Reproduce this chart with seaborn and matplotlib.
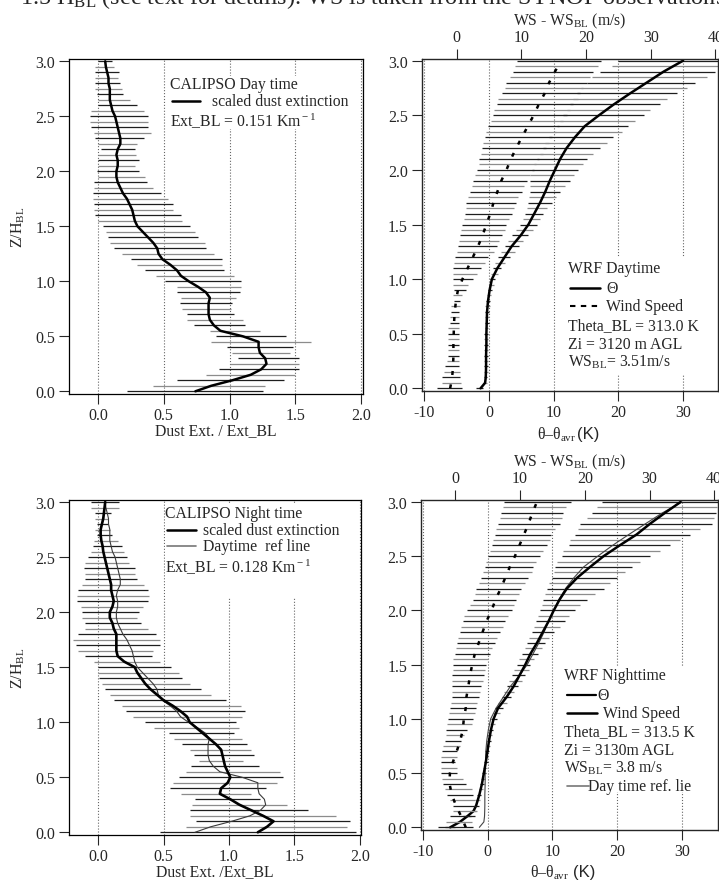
import numpy as np
import matplotlib
matplotlib.use("Agg")
import matplotlib.pyplot as plt
from matplotlib.patches import Rectangle
import seaborn as sns

W, H = 719, 887

# levels of the profiles, Z/H_BL
z_bins = np.linspace(0, 3, 61)
z_coarse = np.linspace(0, 3, 31)
z_theta = [0.0, 0.05, 0.1, 0.15, 0.2, 0.3, 0.4, 0.5, 0.6, 0.7, 0.8, 0.9, 1.0, 1.1, 1.2, 1.3,
           1.4, 1.5, 1.6, 1.7, 1.8, 1.9, 2.0, 2.1, 2.2, 2.3, 2.4, 2.5, 2.6, 2.7, 2.8, 2.9, 3.0]

# CALIPSO daytime, scaled dust extinction (bottom -> top)
day_ext = [0.74, 0.86, 1.02, 1.16, 1.24, 1.28, 1.27, 1.23, 1.22, 1.22,
           1.10, 0.93, 0.88, 0.85, 0.84, 0.84, 0.84, 0.85, 0.82, 0.76,
           0.69, 0.63, 0.60, 0.55, 0.49, 0.46, 0.45, 0.42, 0.38, 0.34,
           0.30, 0.28, 0.27, 0.26, 0.24, 0.22, 0.19, 0.17, 0.15, 0.14,
           0.14, 0.15, 0.15, 0.14, 0.15, 0.17, 0.17, 0.16, 0.15, 0.14,
           0.13, 0.11, 0.10, 0.09, 0.09, 0.09, 0.08, 0.08, 0.07, 0.06, 0.055]
day_ext_lo = [0.22, 0.42, 0.60, 0.82, 0.92, 1.00, 1.06, 1.02, 0.98, 0.86,
              0.90, 0.85, 0.73, 0.68, 0.68, 0.64, 0.62, 0.63, 0.60, 0.60,
              0.51, 0.44, 0.36, 0.30, 0.25, 0.18, 0.12, 0.09, 0.08, 0.06,
              0.04, 0.00, -0.02, -0.03, -0.03, -0.04, -0.04, -0.03, -0.03, 0.00,
              -0.01, 0.00, 0.00, 0.00, 0.02, 0.00, -0.02, -0.03, -0.05, -0.06,
              -0.06, -0.05, 0.00, 0.00, -0.01, -0.02, -0.02, -0.02, -0.02, -0.02, 0.00]
day_ext_hi = [1.25, 1.27, 1.41, 1.50, 1.53, 1.53, 1.53, 1.46, 1.48, 1.62,
              1.43, 1.23, 1.12, 1.10, 1.03, 1.01, 1.02, 1.05, 1.08, 1.09,
              1.09, 1.03, 0.96, 0.94, 0.94, 0.88, 0.82, 0.81, 0.76, 0.74,
              0.70, 0.64, 0.63, 0.57, 0.57, 0.53, 0.48, 0.42, 0.37, 0.36,
              0.31, 0.28, 0.31, 0.29, 0.28, 0.30, 0.35, 0.40, 0.38, 0.38,
              0.38, 0.35, 0.30, 0.24, 0.19, 0.18, 0.17, 0.15, 0.16, 0.12, 0.11]

# CALIPSO nighttime
night_ext = [1.22, 1.29, 1.34, 1.26, 1.17, 1.08, 1.01, 0.93, 0.94, 0.99,
             1.01, 0.99, 0.97, 0.96, 0.95, 0.94, 0.90, 0.85, 0.80, 0.75,
             0.70, 0.68, 0.63, 0.57, 0.50, 0.45, 0.40, 0.36, 0.33, 0.30,
             0.28, 0.20, 0.15, 0.14, 0.14, 0.14, 0.14, 0.12, 0.11, 0.09,
             0.09, 0.11, 0.12, 0.11, 0.10, 0.10, 0.09, 0.08, 0.07, 0.06,
             0.05, 0.04, 0.035, 0.025, 0.02, 0.02, 0.03, 0.04, 0.045, 0.05, 0.055]
night_ext_lo = [0.47, 0.67, 0.75, 0.70, 0.70, 0.72, 0.74, 0.63, 0.55, 0.57,
                0.62, 0.67, 0.71, 0.77, 0.73, 0.70, 0.64, 0.58, 0.54, 0.43,
                0.36, 0.27, 0.21, 0.18, 0.12, 0.09, 0.05, 0.03, 0.01, 0.00,
                0.00, -0.03, -0.10, -0.15, -0.17, -0.19, -0.15, -0.10, -0.10, -0.12,
                -0.12, -0.13, -0.16, -0.16, -0.15, -0.12, -0.10, -0.10, -0.11, -0.10,
                -0.08, -0.05, -0.04, -0.03, -0.01, -0.02, -0.01, -0.02, -0.02, -0.05, -0.05]
night_ext_hi = [1.97, 1.90, 1.92, 1.82, 1.60, 1.44, 1.24, 1.17, 1.28, 1.37,
                1.41, 1.39, 1.23, 1.11, 1.19, 1.17, 1.14, 1.10, 1.04, 1.08,
                1.05, 1.10, 1.12, 1.09, 0.98, 0.86, 0.79, 0.70, 0.64, 0.62,
                0.56, 0.47, 0.41, 0.42, 0.47, 0.47, 0.44, 0.38, 0.33, 0.30,
                0.31, 0.34, 0.38, 0.39, 0.38, 0.35, 0.30, 0.28, 0.28, 0.24,
                0.22, 0.20, 0.18, 0.15, 0.11, 0.09, 0.08, 0.08, 0.10, 0.16, 0.16]

# WRF daytime: theta - theta_avr (K) and WS - WS_BL (m/s)
theta_day = [-1.3, -0.6, -0.5, -0.47, -0.45, -0.45, -0.4, -0.4, -0.35, -0.3, -0.15, 0.1, 0.45,
             1.3, 2.4, 3.5, 4.9, 6.1, 7.0, 7.9, 8.7, 9.4, 10.2, 11.0, 12.0, 13.3, 14.8,
             17.0, 19.3, 21.8, 24.4, 27.0, 30.0]
theta_day_lo = [-2.0, -0.9, -0.8, -0.75, -0.75, -0.75, -0.75, -0.7, -0.7, -0.7,
                -0.7, -0.65, -0.65, -0.6, -0.6, -0.55, -0.45, -0.3, -0.2, 0.0,
                0.1, 0.35, 0.6, 0.9, 1.4, 1.9, 2.4, 3.0, 3.6, 4.2,
                4.8, 5.2, 5.6, 5.9, 6.1, 6.2, 6.35, 6.4, 6.3, 6.4,
                6.6, 7.0, 7.4, 7.9, 8.3, 8.7, 9.2, 10.0, 10.5, 11.0,
                11.5, 12.0, 12.5, 13.0, 13.6, 14.3, 15.1, 16.0, 17.2, 19.0, 20.0]
theta_day_hi = [-0.9, -0.3, -0.25, -0.2, -0.2, -0.2, -0.2, -0.2, -0.15, -0.15,
                -0.1, -0.1, -0.05, 0.0, 0.0, 0.1, 0.2, 0.35, 0.5, 0.7,
                1.0, 1.35, 1.9, 2.5, 3.3, 4.0, 4.6, 5.3, 6.1, 6.8,
                7.4, 7.9, 8.4, 9.0, 9.7, 10.4, 11.0, 11.7, 12.5, 13.2,
                13.8, 14.6, 15.1, 16.1, 17.2, 18.2, 19.2, 20.5, 21.5, 22.6,
                23.9, 24.9, 26.4, 27.5, 29.0, 30.6, 31.9, 33.7, 35.0, 40.0, 40.0]
ws_day = [-1.0, -0.7, -0.55, -0.5, -0.5, -0.45, -0.4, -0.3, -0.1, 0.2, 0.9, 1.7, 2.5, 3.3,
          4.0, 4.6, 5.2, 5.7, 6.3, 6.9, 7.7, 8.4, 9.2, 10.1, 11.0, 11.9, 12.7, 13.6, 14.3,
          15.2, 16.1]
ws_day_lo = [-3.0, -2.3, -2.2, -2.0, -1.8, -1.5, -1.4, -1.4, -1.3, -1.3,
             -1.3, -1.3, -1.1, -1.1, -0.9, -0.8, -0.4, -0.5, -0.4, -0.5,
             -0.6, -0.6, -0.5, -0.4, -0.3, 0.0, 0.2, 0.4, 0.5, 0.6,
             0.9, 1.1, 1.3, 1.4, 1.5, 1.8, 2.1, 2.3, 2.6, 2.8,
             3.1, 3.4, 3.5, 3.7, 3.9, 4.1, 4.4, 4.6, 4.9, 5.3,
             5.6, 5.8, 6.2, 6.4, 7.0, 7.4, 7.7, 8.2, 8.7, 9.0, 9.4]
ws_day_hi = [0.8, 0.6, 0.5, 0.5, 0.4, 0.4, 0.4, 0.4, 0.4, 0.4,
             0.3, 0.3, 0.3, 0.4, 0.4, 0.5, 0.5, 0.8, 1.4, 1.8,
             2.5, 3.1, 3.7, 4.4, 4.9, 5.7, 6.2, 6.6, 7.0, 7.4,
             7.7, 8.1, 8.5, 8.8, 9.2, 9.5, 10.1, 10.4, 10.8, 11.3,
             11.9, 12.3, 12.8, 13.3, 13.8, 14.3, 14.8, 15.4, 15.8, 16.4,
             17.0, 17.5, 18.0, 18.7, 19.1, 19.6, 20.1, 20.6, 21.1, 21.9, 22.3]

# WRF nighttime
theta_night = [-5.8, -4.3, -3.2, -2.2, -1.8, -1.3, -0.9, -0.6, -0.3, -0.05, 0.2, 0.5, 0.9,
               1.6, 2.9, 4.0, 4.9, 5.8, 6.6, 7.6, 8.5, 9.4, 10.2, 11.1, 12.2, 13.8, 15.8,
               17.9, 20.4, 23.0, 25.1, 27.4, 29.8]
theta_night_lo = [-6.6, -5.0, -3.8, -2.7, -2.2, -1.9, -1.6, -1.4, -1.2, -1.05,
                  -0.9, -0.75, -0.6, -0.5, -0.35, -0.25, -0.1, 0.05, 0.15, 0.3,
                  0.5, 0.8, 1.1, 1.6, 2.2, 2.5, 2.9, 3.3, 3.7, 4.1,
                  4.5, 4.9, 5.3, 5.7, 6.0, 6.4, 6.8, 7.2, 7.5, 7.8,
                  8.1, 8.4, 8.5, 8.9, 9.1, 9.4, 9.9, 10.2, 10.4, 10.7,
                  11.4, 11.7, 12.5, 12.7, 13.5, 14.0, 14.3, 15.3, 16.1, 16.9, 17.6]
theta_night_hi = [-5.0, -3.6, -2.6, -1.7, -1.4, -1.2, -1.0, -0.8, -0.6, -0.45,
                  -0.3, -0.15, 0.0, 0.1, 0.25, 0.35, 0.5, 0.65, 0.85, 1.1,
                  1.4, 1.9, 2.4, 2.9, 3.6, 4.1, 4.7, 5.3, 5.8, 6.3,
                  6.6, 7.2, 7.7, 8.4, 8.9, 9.5, 10.3, 11.1, 12.0, 12.6,
                  13.5, 14.3, 15.3, 16.6, 17.9, 18.9, 19.9, 21.2, 22.3, 23.6,
                  25.1, 26.6, 28.2, 29.7, 31.3, 32.8, 34.6, 34.9, 35.2, 35.4, 36.0]
ws_night = [1.6, 0.9, 0.1, -0.55, -0.9, -0.85, -0.4, 0.2, 0.75, 1.15, 1.3, 1.6, 1.7, 2.0,
            2.25, 2.6, 3.0, 3.6, 4.2, 4.8, 5.6, 6.2, 7.0, 7.7, 8.4, 9.2, 9.9, 10.6, 11.3,
            11.9, 12.6]
ws_night_lo = [-2.7, -1.4, -0.9, -0.4, -0.4, -0.9, -1.3, -1.6, -1.9, -2.0,
               -2.2, -2.2, -2.2, -2.2, -2.0, -1.9, -1.6, -1.5, -1.4, -1.3,
               -1.1, -1.0, -0.8, -0.7, -0.6, -0.6, -0.5, -0.5, -0.5, -0.4,
               -0.4, -0.3, -0.1, 0.05, 0.3, 0.4, 0.7, 0.9, 1.2, 1.4,
               1.8, 2.2, 2.7, 3.0, 3.2, 3.7, 4.0, 4.3, 4.5, 4.8,
               5.1, 5.3, 5.6, 5.8, 6.1, 6.3, 6.6, 6.9, 7.1, 7.3, 7.5]
ws_night_hi = [2.7, 2.6, 3.0, 3.2, 3.2, 3.0, 2.7, 2.5, 1.6, 1.2,
               0.2, 0.2, -0.1, 0.2, 0.3, 0.7, 0.9, 1.3, 1.8, 2.5,
               2.7, 3.0, 3.2, 3.4, 3.7, 3.8, 4.0, 4.2, 4.4, 4.5,
               4.8, 5.1, 5.3, 5.7, 6.1, 6.4, 6.9, 7.3, 7.7, 8.1,
               8.7, 9.0, 9.3, 9.8, 10.2, 10.7, 11.2, 11.8, 12.0, 12.5,
               13.0, 13.6, 14.1, 14.6, 14.8, 15.4, 16.1, 16.4, 16.6, 17.1, 17.8]

WS_OFFSET = 5  # top axis (WS) is shifted by 5 against the theta axis
BAR_COLS = ["#1e1e1e", "#8c8c8c"]
FS = 11.3

sns.set_style("ticks")
plt.rcParams["font.family"] = ["Liberation Serif", "DejaVu Serif"]
plt.rcParams["mathtext.fontset"] = "custom"
plt.rcParams["mathtext.rm"] = "Liberation Serif"
plt.rcParams["mathtext.it"] = "Liberation Serif:italic"
plt.rcParams["axes.unicode_minus"] = False
plt.rcParams["axes.axisbelow"] = True


def px_box(left, top, right, bottom):
    return [left / W, 1 - bottom / H, (right - left) / W, (bottom - top) / H]


def style_axes(ax, xlim, xticks, fmt):
    ax.set_xlim(*xlim)
    ax.set_ylim(-0.02, 3.02)
    ax.set_xticks(xticks)
    ax.set_xticklabels([fmt.format(t) for t in xticks])
    ax.set_yticks([0, 0.5, 1.0, 1.5, 2.0, 2.5, 3.0])
    ax.set_yticklabels(["%.1f" % t for t in [0, 0.5, 1.0, 1.5, 2.0, 2.5, 3.0]])
    ax.tick_params(direction="out", length=7, width=0.8, pad=3, labelsize=11.5,
                   top=False, right=False)
    for s in ax.spines.values():
        s.set_visible(True)
        s.set_linewidth(0.9)
        s.set_color("black")
    ax.xaxis.grid(True, linestyle=":", color="#666666", linewidth=0.8)
    ax.yaxis.grid(False)


def draw_bars(ax, lo, hi):
    cols = [BAR_COLS[i % 2] for i in range(len(z_bins))]
    ax.hlines(z_bins, lo, hi, colors=cols, linewidth=0.9, zorder=2)


def white_box(ax, x0, z0, x1, z1):
    ax.add_patch(Rectangle((x0, z0), x1 - x0, z1 - z0, facecolor="white",
                           edgecolor="none", zorder=1))


fig = plt.figure(figsize=(W / 100, H / 100), dpi=100)

fig.text(20 / W, 1 - 4 / H,
         "1.5 H$_{\\rm BL}$ (see text for details). WS is taken from the SYNOP observations",
         fontsize=17.4, va="baseline", ha="left")

# ---------------- CALIPSO day ----------------
ax1 = fig.add_axes(px_box(69, 60.1, 363, 394.5))
draw_bars(ax1, day_ext_lo, day_ext_hi)
sns.lineplot(x=day_ext, y=z_bins, ax=ax1, orient="y", sort=False, estimator=None,
             color="black", linewidth=1.8, zorder=3)
style_axes(ax1, (-0.22, 2.013), [0, 0.5, 1.0, 1.5, 2.0], "{:.1f}")
ax1.set_xlabel("Dust Ext. / Ext_BL", fontsize=FS, labelpad=-1)
ax1.set_ylabel("Z/H$_{\\rm BL}$", fontsize=11.5, labelpad=6)
white_box(ax1, 0.52, 2.385, 1.95, 2.87)
ax1.text(0.547, 2.79, "CALIPSO Day time", fontsize=FS, va="center", zorder=4)
ax1.plot([0.56, 0.775], [2.64, 2.64], color="black", linewidth=1.8, zorder=4)
ax1.text(0.863, 2.64, "scaled dust extinction", fontsize=FS, va="center", zorder=4)
ax1.text(0.547, 2.46, "Ext_BL = 0.151 Km$^{\\rm -1}$", fontsize=FS, va="center", zorder=4)

# ---------------- CALIPSO night ----------------
ax3 = fig.add_axes(px_box(69.2, 500.8, 361.3, 835.5))
draw_bars(ax3, night_ext_lo, night_ext_hi)
sns.lineplot(x=day_ext, y=z_bins, ax=ax3, orient="y", sort=False, estimator=None,
             color="#3a3a3a", linewidth=0.8, zorder=3)
sns.lineplot(x=night_ext, y=z_bins, ax=ax3, orient="y", sort=False, estimator=None,
             color="black", linewidth=1.9, zorder=3)
style_axes(ax3, (-0.22, 2.01), [0, 0.5, 1.0, 1.5, 2.0], "{:.1f}")
ax3.set_xlabel("Dust Ext. /Ext_BL", fontsize=FS, labelpad=-1)
ax3.set_ylabel("Z/H$_{\\rm BL}$", fontsize=11.5, labelpad=6)
white_box(ax3, 0.51, 2.125, 1.95, 2.985)
ax3.text(0.51, 2.90, "CALIPSO Night time", fontsize=FS, va="center", zorder=4)
ax3.plot([0.53, 0.75], [2.75, 2.75], color="black", linewidth=1.8, zorder=4)
ax3.text(0.80, 2.75, "scaled dust extinction", fontsize=FS, va="center", zorder=4)
ax3.plot([0.53, 0.75], [2.60, 2.60], color="#777777", linewidth=1.2, zorder=4)
ax3.text(0.80, 2.60, "Daytime  ref line", fontsize=FS, va="center", zorder=4)
ax3.text(0.51, 2.41, "Ext_BL = 0.128 Km$^{\\rm -1}$", fontsize=FS, va="center", zorder=4)


def wrf_panel(box, xlim, theta, th_lo, th_hi, ws, ws_lo, ws_hi, ref=None):
    ax = fig.add_axes(px_box(*box))
    draw_bars(ax, th_lo, th_hi)
    if ref is not None:
        sns.lineplot(x=ref, y=z_theta, ax=ax, orient="y", sort=False, estimator=None,
                     color="#444444", linewidth=0.8, zorder=3)
    sns.lineplot(x=theta, y=z_theta, ax=ax, orient="y", sort=False, estimator=None,
                 color="black", linewidth=1.8, zorder=3)
    style_axes(ax, xlim, [-10, 0, 10, 20, 30], "{:d}")
    ax2 = ax.twiny()
    cols = [BAR_COLS[i % 2] for i in range(len(z_bins))]
    ax2.hlines(z_bins, ws_lo, ws_hi, colors=cols, linewidth=0.9, zorder=2)
    sns.lineplot(x=ws, y=z_coarse, ax=ax2, orient="y", sort=False, estimator=None,
                 color="black", linewidth=1.8, zorder=3)
    ax2.lines[-1].set_dashes([1.6, 3.8])
    ax2.set_xlim(xlim[0] + WS_OFFSET, xlim[1] + WS_OFFSET)
    ax2.set_ylim(-0.02, 3.02)
    ax2.set_xticks([0, 10, 20, 30, 40])
    ax2.set_xticklabels(["0", "10", "20", "30", "40"])
    ax2.tick_params(direction="out", length=7, width=0.8, pad=3, labelsize=11.5)
    ax2.grid(False)
    ax2.set_ylabel("")
    ax2.set_xlabel("WS - WS$_{\\rm BL}$ (m/s)", fontsize=FS, labelpad=3)
    ax.set_xlabel("")
    ax.set_ylabel("")
    return ax, ax2


# ---------------- WRF day ----------------
ax2, ax2t = wrf_panel((421.7, 59.5, 718, 391.5), (-10.4, 35.4), theta_day,
                      theta_day_lo, theta_day_hi, ws_day, ws_day_lo, ws_day_hi)
white_box(ax2, 11.5, 0.13, 35.4, 1.2)
ax2.text(12.27, 1.10, "WRF Daytime", fontsize=FS, va="center", zorder=4)
ax2.plot([12.6, 17.1], [0.915, 0.915], color="black", linewidth=1.8, zorder=4)
ax2.text(18.1, 0.915, "\u0398", fontsize=FS, va="center", zorder=4)
ax2.plot([12.6, 17.1], [0.75, 0.75], color="black", linewidth=1.5,
         linestyle=(0, (2.6, 2.6)), zorder=4)
ax2.text(18.1, 0.75, "Wind Speed", fontsize=FS, va="center", zorder=4)
ax2.text(12.27, 0.58, "Theta_BL = 313.0 K", fontsize=FS, va="center", zorder=4)
ax2.text(12.27, 0.406, "Zi = 3120 m AGL", fontsize=FS, va="center", zorder=4)
ax2.text(12.27, 0.244, "WS$_{\\rm BL}$= 3.51m/s", fontsize=FS, va="center", zorder=4)
fig.text(576 / W, 1 - 435 / H, "\u03b8\u2013\u03b8$_{\\rm avr}$", fontsize=FS,
         ha="right", va="center")
fig.text(577 / W, 1 - 435 / H, "(K)", fontsize=12, ha="left", va="center",
         family=["Liberation Sans", "DejaVu Sans"])

# ---------------- WRF night ----------------
ax4, ax4t = wrf_panel((421.1, 500.8, 718.1, 830.5), (-10.3, 35.6), theta_night,
                      theta_night_lo, theta_night_hi, ws_night, ws_night_lo, ws_night_hi,
                      ref=theta_day)
white_box(ax4, 11.2, 0.33, 35.6, 1.49)
ax4.text(11.86, 1.405, "WRF Nighttime", fontsize=FS, va="center", zorder=4)
ax4.plot([12.3, 16.75], [1.22, 1.22], color="black", linewidth=1.6, zorder=4)
ax4.text(16.96, 1.22, "\u0398", fontsize=FS, va="center", zorder=4)
ax4.plot([12.3, 16.85], [1.054, 1.054], color="black", linewidth=1.8, zorder=4)
ax4.text(17.8, 1.054, "Wind Speed", fontsize=FS, va="center", zorder=4)
ax4.text(11.86, 0.885, "Theta_BL = 313.5 K", fontsize=FS, va="center", zorder=4)
ax4.text(11.86, 0.716, "Zi = 3130m AGL", fontsize=FS, va="center", zorder=4)
ax4.text(11.86, 0.55, "WS$_{\\rm BL}$= 3.8 m/s", fontsize=FS, va="center", zorder=4)
ax4.plot([12.2, 15.6], [0.378, 0.378], color="#777777", linewidth=1.2, zorder=4)
ax4.text(15.57, 0.378, "Day time ref. lie", fontsize=FS, va="center", zorder=4)
fig.text(569 / W, 1 - 873 / H, "\u03b8\u2013\u03b8$_{\\rm avr}$", fontsize=FS,
         ha="right", va="center")
fig.text(573 / W, 1 - 873 / H, "(K)", fontsize=12, ha="left", va="center",
         family=["Liberation Sans", "DejaVu Sans"])

fig.savefig("out.png", dpi=100)
